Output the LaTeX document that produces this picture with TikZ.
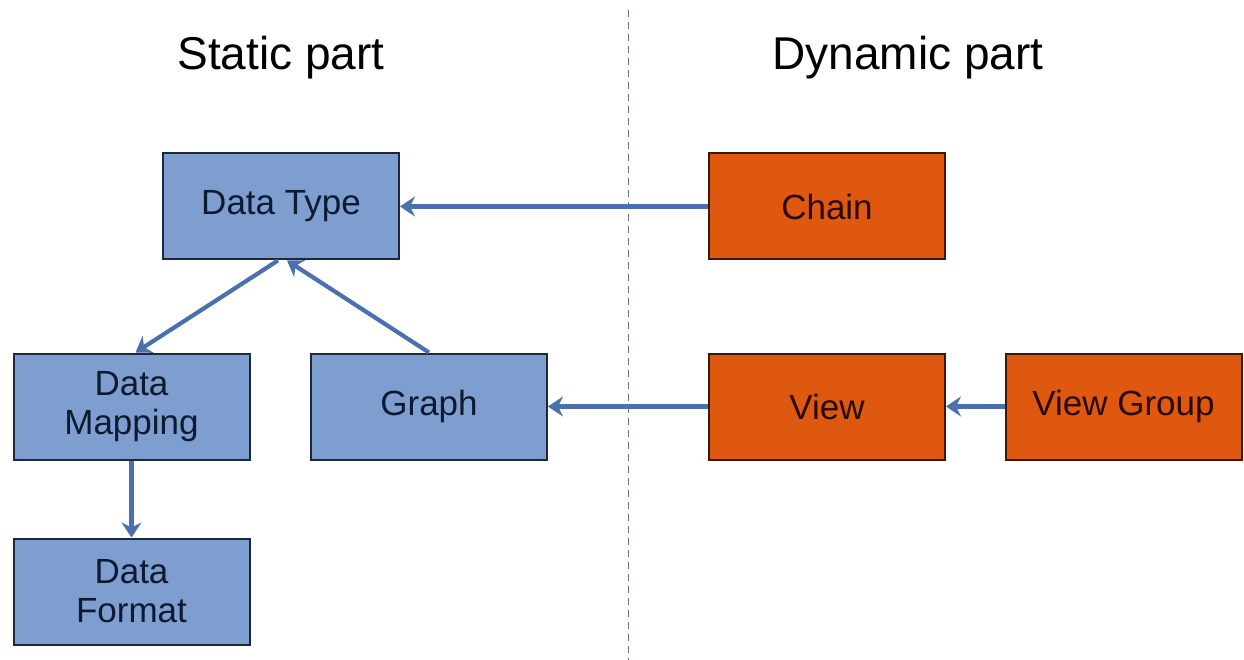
\documentclass[tikz,border=0pt]{standalone}
\usepackage{fontspec}
\setmainfont{Liberation Sans}
\usetikzlibrary{arrows.meta}
\definecolor{bluefill}{RGB}{127,158,208}
\definecolor{blueline}{RGB}{28,40,62}
\definecolor{bluetext}{RGB}{14,26,48}
\definecolor{orangefill}{RGB}{222,88,16}
\definecolor{orangeline}{RGB}{60,24,8}
\definecolor{orangetext}{RGB}{40,10,2}
\definecolor{arrowblue}{RGB}{74,112,176}
\definecolor{dashgray}{RGB}{100,115,140}
\tikzset{
  staticbox/.style={draw=blueline, fill=bluefill, line width=2pt, minimum width=236pt, minimum height=106pt, inner sep=0pt, align=center, text=bluetext, font=\fontsize{35}{39}\selectfont},
  dynbox/.style={draw=orangeline, fill=orangefill, line width=2pt, minimum width=236pt, minimum height=106pt, inner sep=0pt, align=center, text=orangetext, font=\fontsize{35}{39}\selectfont},
  link/.style={draw=arrowblue, line width=4.2pt, -{Stealth[length=15pt,width=20pt,inset=5pt]}},
  title/.style={font=\fontsize{46}{52}\selectfont, text=black, anchor=base}
}
\begin{document}
\begin{tikzpicture}[x=1pt,y=-1pt]
\useasboundingbox (0,0) rectangle (1244,660);
\fill[white] (0,0) rectangle (1244,660);
\coordinate (dtop) at (628,10);
\coordinate (dbot) at (628,660);
\draw[dashgray, line width=1pt, dash pattern=on 7pt off 5pt] (dtop) -- (dbot);
\node[title] (static) at (281,70) {Static part};
\node[title] (dynamic) at (908,70) {Dynamic part};
\node[staticbox] (dtype) at (281,206.5) {Data Type};
\node[dynbox] (chain) at (827,206.5) {Chain};
\node[staticbox] (dmap) at (131.5,406.5) {Data\\Mapping};
\node[staticbox] (graph) at (429,406.5) {Graph};
\node[dynbox] (view) at (827,406.5) {View};
\node[dynbox] (vgroup) at (1123.5,406.5) {View Group};
\node[staticbox] (dformat) at (131.5,591.5) {Data\\Format};
\draw[link] (chain.west) -- (dtype.east);
\draw[link] ([xshift=-3pt]dtype.south) -- ([xshift=4pt]dmap.north);
\draw[link] (graph.north) -- ([xshift=6pt]dtype.south);
\draw[link] (dmap.south) -- (dformat.north);
\draw[link] (view.west) -- (graph.east);
\draw[link] (vgroup.west) -- (view.east);
\end{tikzpicture}
\end{document}
